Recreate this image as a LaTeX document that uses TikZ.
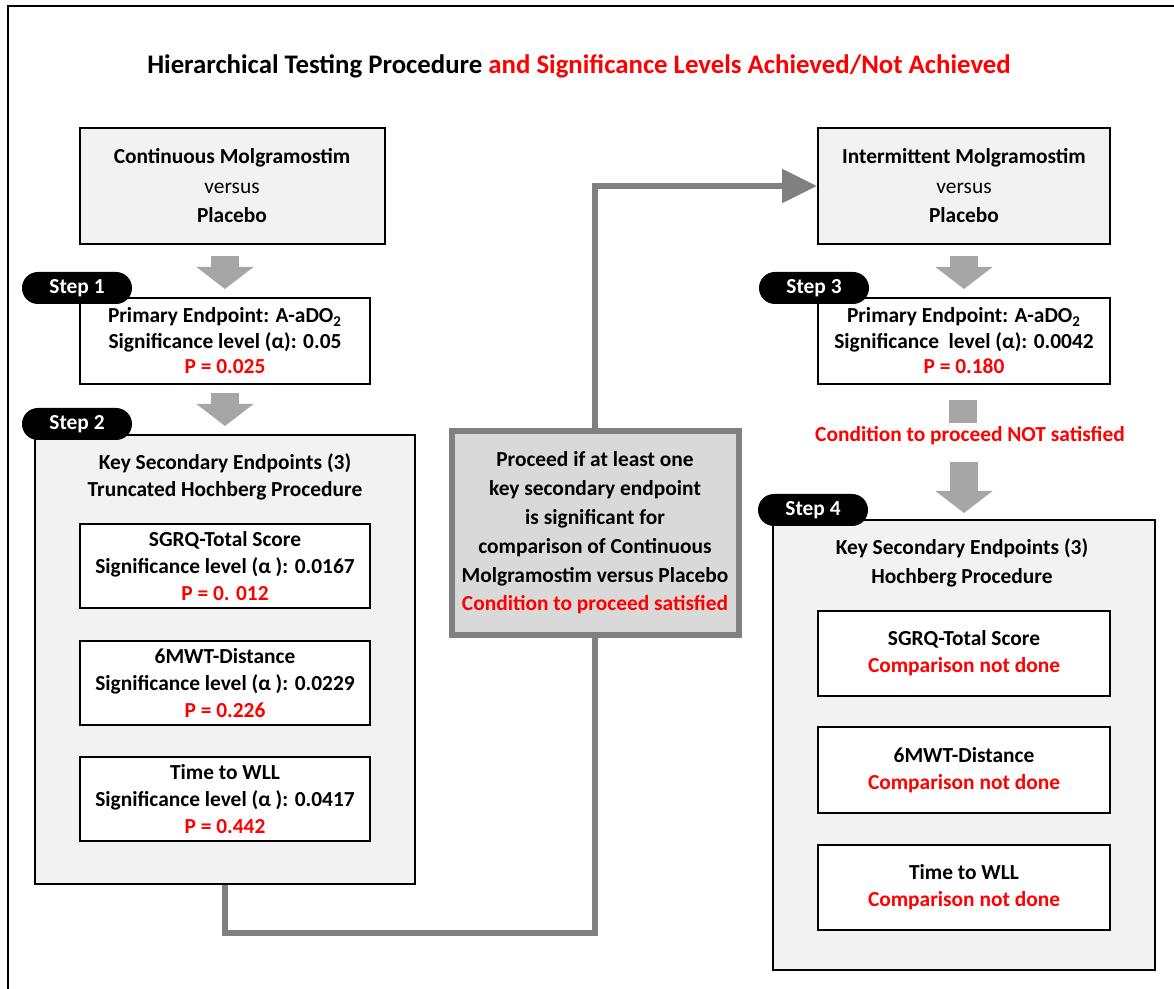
\documentclass[tikz,border=0pt]{standalone}
\usepackage{fontspec}
\setmainfont{Carlito}
\usepackage{tikz}
\usetikzlibrary{positioning, arrows.meta}
\usepackage{xcolor}
\definecolor{panelgray}{HTML}{F2F2F2}
\definecolor{condgray}{HTML}{D9D9D9}
\definecolor{arrowgray}{HTML}{A6A6A6}
\definecolor{linkgray}{HTML}{808080}
\definecolor{sigred}{HTML}{FF0000}
\tikzset{
  panel/.style={draw, line width=1pt, fill=panelgray, align=center, inner sep=0pt},
  plainbox/.style={draw, line width=1pt, fill=white, align=center, inner sep=0pt},
  steppill/.style={fill=black, text=white, rounded corners=8pt, minimum width=55pt, minimum height=16pt, inner sep=0pt},
  fatarrow/.style={draw=arrowgray, line width=14pt, -{Triangle[length=11pt, width=28pt]}},
  link/.style={draw=linkgray, line width=3pt, line join=miter},
}
\newcommand{\pval}[1]{\textcolor{sigred}{#1}}

\begin{document}
\begin{tikzpicture}[x=0.5pt, y=-0.5pt, font=\fontsize{10.7}{13.5}\selectfont\bfseries]
  \useasboundingbox (0,0) rectangle (1174,989);
  \clip (0,0) rectangle (1174,989);
  \draw[line width=1pt] (8,6) rectangle (1200,1010);

  \node[font=\fontsize{13.4}{15}\selectfont\bfseries] (title) at (579,66)
    {Hierarchical Testing Procedure \pval{and Significance Levels Achieved/Not Achieved}};

  % left column: continuous dosing
  \node[panel, minimum width=152.5pt, minimum height=58pt, font=\fontsize{10.7}{14.75}\selectfont\bfseries] (contA) at (232,186)
    {Continuous Molgramostim\\{\mdseries versus}\\Placebo};
  \node[plainbox, minimum width=145pt, minimum height=43pt, font=\fontsize{10.7}{12.75}\selectfont\bfseries] (contP) at (225,341)
    {Primary Endpoint: A-aDO\textsubscript{2}\\Significance level (α): 0.05\\\pval{P = 0.025}};
  \node[panel, minimum width=190pt, minimum height=224.5pt] (contK) at (225,659.5) {};
  \node[align=center] (contKHead) at (225,476.5) {Key Secondary Endpoints (3)\\Truncated Hochberg Procedure};
  \node[plainbox, minimum width=145pt, minimum height=42pt] (contK1) at (225,566)
    {SGRQ-Total Score\\Significance level (α ): 0.0167\\\pval{P = 0. 012}};
  \node[plainbox, minimum width=145pt, minimum height=42pt] (contK2) at (225,683)
    {6MWT-Distance\\Significance level (α ): 0.0229\\\pval{P = 0.226}};
  \node[plainbox, minimum width=145pt, minimum height=42pt] (contK3) at (225,799)
    {Time to WLL\\Significance level (α ): 0.0417\\\pval{P = 0.442}};

  % gate between the two arms
  \node[draw=linkgray, line width=3pt, fill=condgray, align=center, inner sep=0pt,
        minimum width=143.5pt, minimum height=102pt, font=\fontsize{10.7}{14.4}\selectfont\bfseries] (gate) at (595,533)
    {Proceed if at least one\\key secondary endpoint\\is significant for\\comparison of Continuous\\Molgramostim versus Placebo\\\pval{Condition to proceed satisfied}};

  % right column: intermittent dosing
  \node[panel, minimum width=146pt, minimum height=58pt, font=\fontsize{10.7}{14.75}\selectfont\bfseries] (intA) at (964,186)
    {Intermittent Molgramostim\\{\mdseries versus}\\Placebo};
  \node[plainbox, minimum width=146pt, minimum height=43pt, font=\fontsize{10.7}{12.75}\selectfont\bfseries] (intP) at (964,341)
    {Primary Endpoint: A-aDO\textsubscript{2}\\Significance\ \ level (α): 0.0042\\\pval{P = 0.180}};
  \node[fill=arrowgray, minimum width=14pt, minimum height=11.5pt, inner sep=0pt] (stub) at (963,411.5) {};
  \node[text=sigred] (notmet) at (970,436) {Condition to proceed NOT satisfied};
  \node[panel, minimum width=191pt, minimum height=225pt] (intK) at (964,745) {};
  \node[align=center, font=\fontsize{10.7}{14.5}\selectfont\bfseries] (intKHead) at (962,562.5) {Key Secondary Endpoints (3)\\Hochberg Procedure};
  \node[plainbox, minimum width=146pt, minimum height=42.5pt] (intK1) at (964,653.5)
    {SGRQ-Total Score\\\pval{Comparison not done}};
  \node[plainbox, minimum width=146pt, minimum height=42.5pt] (intK2) at (964,770)
    {6MWT-Distance\\\pval{Comparison not done}};
  \node[plainbox, minimum width=146pt, minimum height=42.5pt] (intK3) at (964,887)
    {Time to WLL\\\pval{Comparison not done}};

  \node[steppill] (step1) at (77,288) {Step 1};
  \node[steppill] (step2) at (77,424) {Step 2};
  \node[steppill] (step3) at (814,288) {Step 3};
  \node[steppill] (step4) at (813,510) {Step 4};

  \draw[fatarrow, shorten <=5.5pt, shorten >=4pt] (contA.south -| contP.north) -- (contP.north);
  \draw[fatarrow, shorten <=4pt, shorten >=4pt] (contP.south) -- (contK.north);
  \draw[fatarrow, shorten <=5.5pt, shorten >=4pt] (intA.south) -- (intP.north);
  \draw[fatarrow, shorten <=5pt, shorten >=3pt] (notmet.south -| intK.north) -- (intK.north);

  \coordinate (low) at (595,933);
  \draw[link] (contK.south) |- (low) -- (gate.south);
  \draw[link, -{Triangle[length=17.5pt, width=16.5pt]}] (gate.north) |- (intA.west);
\end{tikzpicture}
\end{document}
